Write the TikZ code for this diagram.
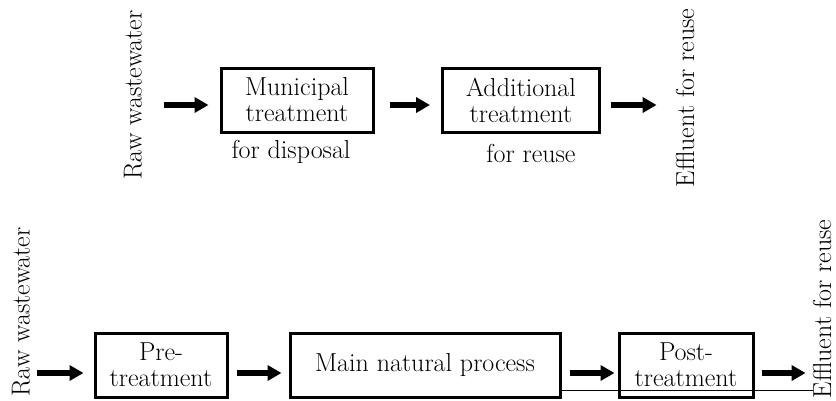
\documentclass[tikz,border=0pt]{standalone}
\usepackage{fontspec}
\usetikzlibrary{positioning}
\usetikzlibrary{arrows.meta}

\tikzset{
  stage/.style={draw, line width=3pt, minimum height=64pt, align=center,
    inner sep=0pt, font=\fontsize{26}{26}\selectfont},
  side/.style={rotate=90, inner sep=0pt, font=\fontsize{26}{26}\selectfont},
  note/.style={inner sep=0pt, font=\fontsize{26}{26}\selectfont},
  flow/.style={line width=6pt, -{Triangle[length=14pt,width=15pt]}},
}

\begin{document}
\begin{tikzpicture}[x=1pt,y=-1pt]
		\useasboundingbox (0,0) rectangle (836,400);
		% upper scheme
		\coordinate (r1) at (0,105);
		\node (raw1) [side] at (133,95) {Raw wastewater};
		\node (mun) [stage, minimum width=152pt] at (297,100) {Municipal\\treatment};
		\node (add) [stage, minimum width=157pt] at (521,100) {Additional\\treatment};
		\node (eff1) [side] at (685,98) {Effluent for reuse};
		\node (disp) [note] at (291,152) {for disposal};
		\node (reuse) [note] at (531,153) {for reuse};
		\draw[flow, shorten <=22pt, shorten >=11pt] (raw1.south |- r1) -- (mun.west |- r1);
		\draw[flow, shorten <=15pt, shorten >=11pt] (mun.east |- r1) -- (add.west |- r1);
		\draw[flow, shorten <=10pt, shorten >=19pt] (add.east |- r1) -- (eff1.north |- r1);
		% lower scheme
		\coordinate (r2) at (0,373);
		\coordinate (base) at (0,390);
		\node (raw2) [side] at (21,312) {Raw wastewater};
		\node (pre) [stage, minimum width=132pt] at (161,365) {Pre-\\treatment};
		\node (main) [stage, minimum width=270pt] at (425,365) {Main natural process};
		\node (post) [stage, minimum width=134pt] at (686,365) {Post-\\treatment};
		\node (eff2) [side] at (822,309) {Effluent for reuse};
		\draw[flow, shorten <=7pt, shorten >=10pt] (raw2.south |- r2) -- (pre.west |- r2);
		\draw[flow, shorten <=8pt, shorten >=7pt] (pre.east |- r2) -- (main.west |- r2);
		\draw[flow, shorten <=8pt, shorten >=3pt] (main.east |- r2) -- (post.west |- r2);
		\draw[flow, shorten <=7pt, shorten >=7pt] (post.east |- r2) -- (eff2.north |- r2);
		\draw[line width=1pt] (main.east |- base) -- (eff2.north |- base);
\end{tikzpicture}
\end{document}
